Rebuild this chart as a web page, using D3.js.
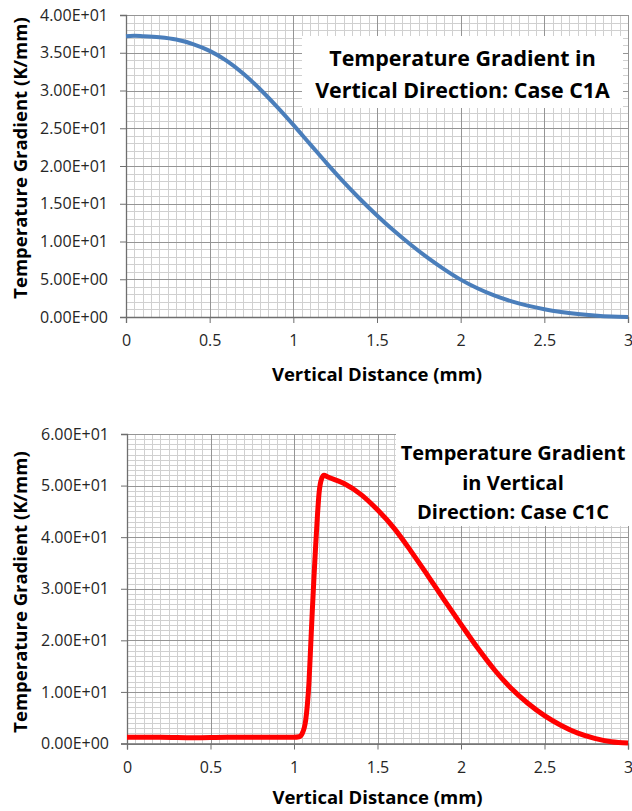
<!DOCTYPE html>
<html lang="en">
<head>
<meta charset="UTF-8">
<title>Temperature Gradient</title>
<script src="https://d3js.org/d3.v7.min.js"></script>
<style>
    * { margin: 0; padding: 0; box-sizing: border-box; }
    body { background: #ffffff; width: 632px; height: 811px; overflow: hidden; }
    svg { display: block; font-family: "Open Sans", Arial, sans-serif; }
</style>
</head>
<body>
<svg id="chart" width="632" height="811"></svg>
<script>
    // Case C1A (top)
    const distTop = [0, 0.05, 0.1, 0.2, 0.3, 0.4, 0.5, 0.6, 0.7, 0.8, 0.9, 1.0, 1.1, 1.2, 1.3, 1.4, 1.5,
        1.6, 1.7, 1.8, 1.9, 2.0, 2.1, 2.2, 2.3, 2.4, 2.5, 2.6, 2.7, 2.8, 2.9, 3.0];
    const gradTop = [37.2, 37.25, 37.2, 37.05, 36.75, 36.15, 35.25, 33.95, 32.25, 30.2, 27.9, 25.45, 22.9, 20.35, 17.9, 15.6, 13.45,
        11.45, 9.6, 7.9, 6.35, 4.95, 3.8, 2.85, 2.1, 1.5, 1.03, 0.67, 0.4, 0.2, 0.06, 0.0];

    // Case C1C (bottom)
    const distBottom = [0, 0.2, 0.4, 0.6, 0.8, 1.0, 1.03, 1.05, 1.07, 1.08, 1.09, 1.10, 1.11, 1.12, 1.13, 1.14, 1.15, 1.165, 1.18,
        1.2, 1.3, 1.4, 1.5, 1.6, 1.7, 1.8, 1.9, 2.0, 2.1, 2.2, 2.3, 2.4, 2.5, 2.6, 2.7, 2.8, 2.9, 3.0];
    const gradBottom = [1.2, 1.2, 1.1, 1.2, 1.2, 1.2, 1.3, 2.0, 4.5, 7.5, 12, 19, 26, 32.5, 38.5, 44, 48.5, 51.3, 52.0,
        51.7, 50.4, 48.3, 45.3, 41.7, 37.3, 32.6, 27.8, 23.1, 18.5, 14.3, 10.7, 7.8, 5.4, 3.5, 2.0, 1.0, 0.35, 0.1];

    const xTicks = [0, 0.5, 1, 1.5, 2, 2.5, 3];
    const yTicksTop = [0, 5, 10, 15, 20, 25, 30, 35, 40];
    const yTicksBottom = [0, 10, 20, 30, 40, 50, 60];
    const titleTop = ["Temperature Gradient in", "Vertical Direction: Case C1A"];
    const titleBottom = ["Temperature Gradient", "in Vertical", "Direction: Case C1C"];

    const svg = d3.select("#chart");

    // excel style 4.00E+01
    const sci = d => {
        const s = d3.format(".2e")(d);           // e.g. 4.00e+1
        const [m, e] = s.split("e");
        const sign = e[0] === "-" ? "-" : "+";
        const ex = Math.abs(+e).toString().padStart(2, "0");
        return m + "E" + sign + ex;
    };

    function drawPanel(cfg) {
        const g = svg.append("g").attr("transform", `translate(${cfg.left},${cfg.top})`);
        const x = d3.scaleLinear().domain([0, 3]).range([0, cfg.width]);
        const y = d3.scaleLinear().domain([0, cfg.yMax]).range([cfg.height, 0]);

        // minor grid
        g.append("g").selectAll("line")
            .data(d3.range(0, 3.0001, 0.05))
            .join("line")
            .attr("x1", d => Math.round(x(d)) + 0.5).attr("x2", d => Math.round(x(d)) + 0.5)
            .attr("y1", 0).attr("y2", cfg.height)
            .attr("stroke", "#d0d0d0").attr("stroke-width", 1);
        g.append("g").selectAll("line")
            .data(d3.range(0, cfg.yMax + 0.001, cfg.yMinor))
            .join("line")
            .attr("y1", d => Math.round(y(d)) + 0.5).attr("y2", d => Math.round(y(d)) + 0.5)
            .attr("x1", 0).attr("x2", cfg.width)
            .attr("stroke", "#d0d0d0").attr("stroke-width", 1);

        // major grid
        g.append("g").selectAll("line")
            .data(xTicks)
            .join("line")
            .attr("x1", d => Math.round(x(d)) + 0.5).attr("x2", d => Math.round(x(d)) + 0.5)
            .attr("y1", 0).attr("y2", cfg.height)
            .attr("stroke", "#959595").attr("stroke-width", 1);
        g.append("g").selectAll("line")
            .data(cfg.yTicks)
            .join("line")
            .attr("y1", d => Math.round(y(d)) + 0.5).attr("y2", d => Math.round(y(d)) + 0.5)
            .attr("x1", 0).attr("x2", cfg.width)
            .attr("stroke", "#959595").attr("stroke-width", 1);

        // title box (under the curve)
        svg.append("rect")
            .attr("x", cfg.box.x).attr("y", cfg.box.y)
            .attr("width", cfg.box.w).attr("height", cfg.box.h)
            .attr("fill", "#ffffff");
        svg.append("text")
            .attr("x", cfg.box.x + cfg.box.w / 2).attr("y", cfg.box.firstLine)
            .attr("text-anchor", "middle")
            .style("font-size", cfg.box.font).style("font-weight", "bold").attr("fill", "#000")
            .selectAll("tspan")
            .data(cfg.title)
            .join("tspan")
            .attr("x", cfg.box.x + cfg.box.w / 2)
            .attr("dy", (d, i) => i === 0 ? 0 : cfg.box.lineH)
            .text(d => d);

        // axes
        const ax = svg.append("g").attr("transform", `translate(${cfg.left},${cfg.top})`);
        const xAxis = ax.append("g")
            .attr("transform", `translate(0,${cfg.height})`)
            .call(d3.axisBottom(x).tickValues(xTicks).tickSize(6).tickPadding(12).tickFormat(d3.format("")));
        const yAxis = ax.append("g")
            .call(d3.axisLeft(y).tickValues(cfg.yTicks).tickSize(6).tickPadding(12).tickFormat(sci));
        [xAxis, yAxis].forEach(a => {
            a.select(".domain").attr("stroke", "#6e6e6e").attr("stroke-width", 1.3);
            a.selectAll(".tick line").attr("stroke", "#6e6e6e");
            a.selectAll("text").attr("fill", "#262626").style("font-size", "16px")
                .style("font-family", "'Open Sans', Arial, sans-serif");
        });

        // curve
        const pts = cfg.xs.map((d, i) => [d, cfg.ys[i]]);
        ax.append("path")
            .datum(pts)
            .attr("fill", "none")
            .attr("stroke", cfg.color)
            .attr("stroke-width", cfg.lineWidth)
            .attr("stroke-linejoin", "round")
            .attr("d", d3.line().x(d => x(d[0])).y(d => y(d[1])).curve(d3.curveMonotoneX));

        // axis titles
        svg.append("text")
            .attr("x", cfg.left + cfg.width / 2).attr("y", cfg.xTitleY)
            .attr("text-anchor", "middle")
            .style("font-size", "18.5px").style("font-weight", "bold").attr("fill", "#000")
            .text("Vertical Distance (mm)");
        svg.append("text")
            .attr("transform", `translate(27,${cfg.yTitleC}) rotate(-90)`)
            .attr("text-anchor", "middle")
            .style("font-size", "18.5px").style("font-weight", "bold").attr("fill", "#000")
            .text("Temperature Gradient (K/mm)");
    }

    drawPanel({
        left: 126, top: 15, width: 502, height: 302, yMax: 40, yMinor: 1,
        yTicks: yTicksTop, xs: distTop, ys: gradTop, color: "#4a7ebb", lineWidth: 4,
        title: titleTop,
        box: { x: 302, y: 36, w: 321, h: 72, firstLine: 66, lineH: 32, font: "21.4px" },
        xTitleY: 381, yTitleC: 158
    });

    drawPanel({
        left: 127, top: 434, width: 501, height: 309.5, yMax: 60, yMinor: 1,
        yTicks: yTicksBottom, xs: distBottom, ys: gradBottom, color: "#ff0000", lineWidth: 5,
        title: titleBottom,
        box: { x: 396, y: 432, w: 234, h: 94, firstLine: 460, lineH: 29.5, font: "20px" },
        xTitleY: 804, yTitleC: 592
    });
</script>
</body>
</html>
